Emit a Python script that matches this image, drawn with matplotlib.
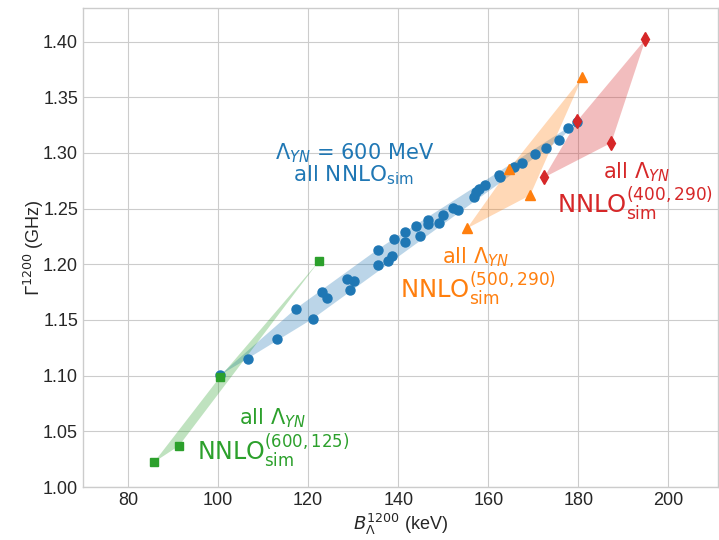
import numpy as np
import matplotlib
matplotlib.use('Agg')
import matplotlib.pyplot as plt

# --- data ---
blue_x = [100.4, 106.6, 113.0, 117.3, 121.1, 123.0, 124.1, 128.7, 130.2, 129.4,
          135.4, 135.6, 137.8, 138.7, 139.1, 141.5, 141.5, 143.9, 144.8, 146.5,
          146.5, 149.1, 150.0, 152.1, 153.2, 156.9, 157.3, 158.0, 159.3, 162.3,
          162.6, 165.8, 167.4, 170.4, 172.8, 175.8, 177.7, 179.8]
blue_y = [1.1005, 1.1154, 1.1325, 1.1603, 1.1513, 1.1752, 1.1698, 1.1866, 1.1854, 1.1767,
          1.2132, 1.1998, 1.2030, 1.2075, 1.2231, 1.2290, 1.2200, 1.2341, 1.2258, 1.2401,
          1.2365, 1.2374, 1.2446, 1.2509, 1.2491, 1.2605, 1.2649, 1.2679, 1.2709, 1.2799,
          1.2783, 1.2873, 1.2909, 1.2987, 1.3044, 1.3118, 1.3227, 1.3280]

green_x = [85.8, 91.3, 100.4, 122.4]
green_y = [1.0224, 1.0370, 1.0987, 1.2027]

orange_x = [155.3, 164.7, 169.3, 180.9]
orange_y = [1.2323, 1.2860, 1.2620, 1.3680]

red_x = [172.4, 179.8, 187.3, 194.9]
red_y = [1.2780, 1.3290, 1.3090, 1.4020]

x_ticks = [80, 100, 120, 140, 160, 180, 200]
y_ticks = [1.00, 1.05, 1.10, 1.15, 1.20, 1.25, 1.30, 1.35, 1.40]


def hull(xs, ys):
    # monotone chain convex hull
    pts = sorted(set(zip(xs, ys)))
    def cross(o, a, b):
        return (a[0] - o[0]) * (b[1] - o[1]) - (a[1] - o[1]) * (b[0] - o[0])
    lower, upper = [], []
    for p in pts:
        while len(lower) >= 2 and cross(lower[-2], lower[-1], p) <= 0:
            lower.pop()
        lower.append(p)
    for p in reversed(pts):
        while len(upper) >= 2 and cross(upper[-2], upper[-1], p) <= 0:
            upper.pop()
        upper.append(p)
    h = lower[:-1] + upper[:-1]
    return [p[0] for p in h], [p[1] for p in h]


plt.style.use('seaborn-v0_8-whitegrid')
plt.rcParams['font.sans-serif'] = ['Liberation Sans', 'DejaVu Sans']
plt.rcParams['xtick.labelsize'] = 13
plt.rcParams['ytick.labelsize'] = 13
plt.rcParams['axes.labelsize'] = 13

fig = plt.figure(figsize=(7.19, 5.40), dpi=100)
ax = fig.add_axes([0.1154, 0.098, 0.8832, 0.887])

for xs, ys, col, mk, ms in [(blue_x, blue_y, 'tab:blue', 'o', 6.5),
                            (green_x, green_y, 'tab:green', 's', 6),
                            (orange_x, orange_y, 'tab:orange', '^', 7.5),
                            (red_x, red_y, 'tab:red', 'd', 7.5)]:
    hx, hy = hull(xs, ys)
    ax.fill(hx, hy, color=col, alpha=0.3, lw=0)
    ax.plot(xs, ys, ls='none', marker=mk, color=col, ms=ms, zorder=3)

tf = dict(family='DejaVu Sans', ha='center', va='baseline')
# blue label
ax.text(130.2, 1.2938, "$\\Lambda_{YN}$ = 600 MeV", color='tab:blue', fontsize=15, **tf)
ax.text(130.0, 1.2747, "all NNLO$_\\mathrm{sim}$", color='tab:blue', fontsize=15.5, **tf)
# orange
ax.text(157.2, 1.2009, "all $\\Lambda_{YN}$", color='tab:orange', fontsize=15, **tf)
ax.text(157.7, 1.1704, "NNLO$^{(500,290)}_\\mathrm{sim}$", color='tab:orange', fontsize=17.5, **tf)
# red
ax.text(192.8, 1.2775, "all $\\Lambda_{YN}$", color='tab:red', fontsize=15, **tf)
ax.text(192.6, 1.2470, "NNLO$^{(400,290)}_\\mathrm{sim}$", color='tab:red', fontsize=17.5, **tf)
# green
ax.text(112.1, 1.0559, "all $\\Lambda_{YN}$", color='tab:green', fontsize=15, **tf)
ax.text(112.2, 1.0251, "NNLO$^{(600,125)}_\\mathrm{sim}$", color='tab:green', fontsize=17, **tf)

ax.set_xlim(70, 211)
ax.set_ylim(1.00, 1.43)
ax.set_xticks(x_ticks)
ax.set_yticks(y_ticks)
ax.set_yticklabels([f"{v:.2f}" for v in y_ticks])
ax.set_xlabel("$B_\\Lambda^{1200}$ (keV)", labelpad=2)
ax.set_ylabel("$\\Gamma^{1200}$ (GHz)", labelpad=-2)

fig.savefig('out.png', dpi=100)
